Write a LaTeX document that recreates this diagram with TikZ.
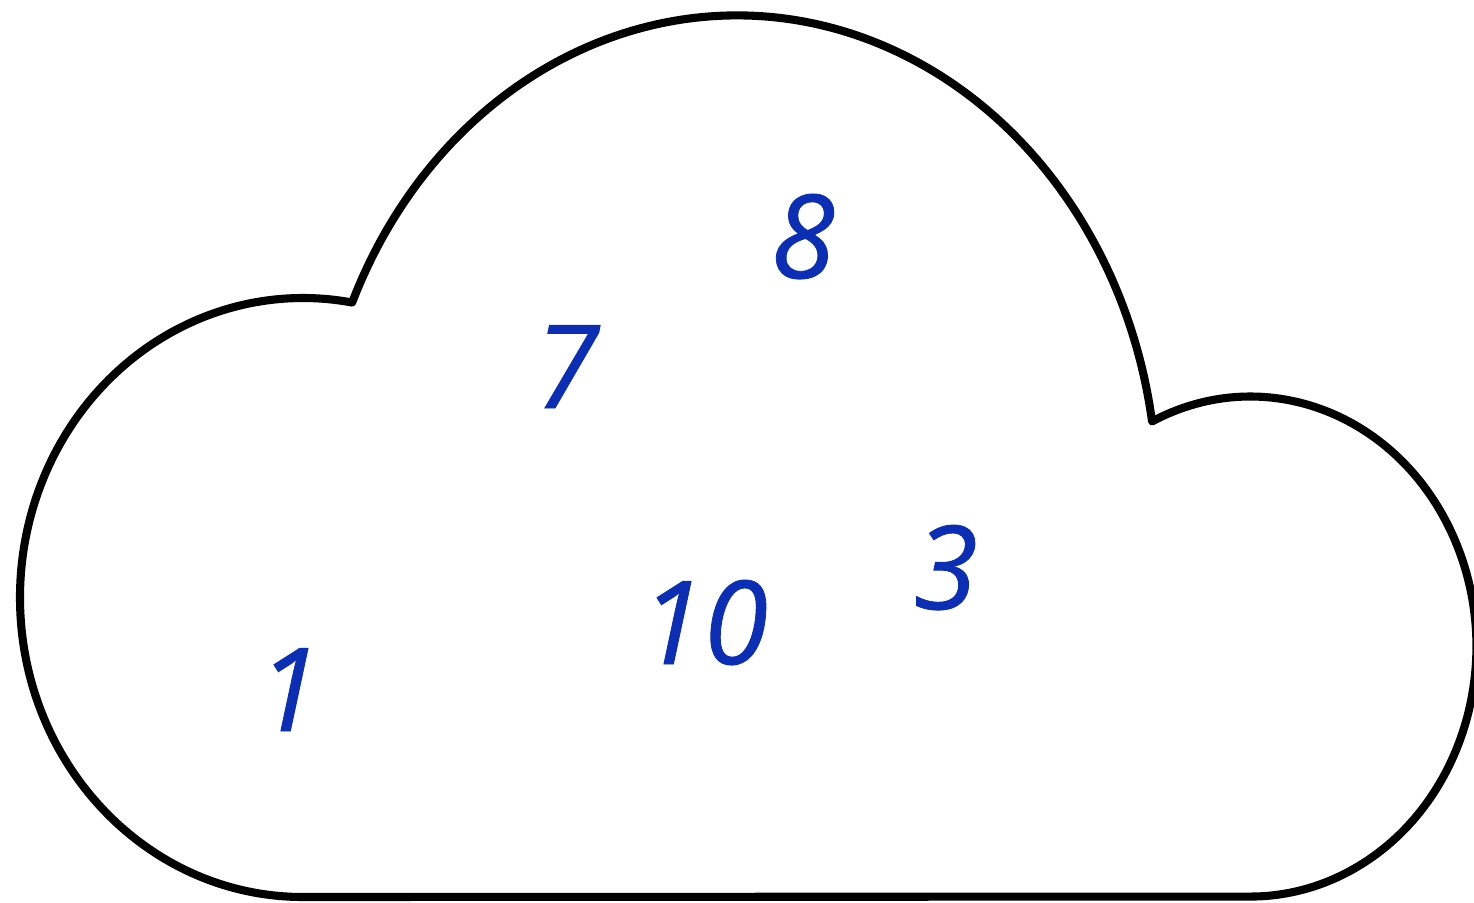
\documentclass[tikz,border=0pt]{standalone}
\usepackage{fontspec}
\setmainfont{Open Sans}[ItalicFeatures={FakeBold=0.7}]
\usepackage{tikz}
\definecolor{numblue}{RGB}{11,46,181}

\begin{document}
\begin{tikzpicture}[num/.style={anchor=base, text=numblue, font=\fontsize{33}{40}\selectfont\itshape, inner sep=0pt}]
            \useasboundingbox (0,0) rectangle (14.74,9.02);
            \coordinate (B) at (3.03,0.05);
            \draw[line width=2.3pt, line join=round]
                (B) arc[start angle=270, end angle=80, x radius=2.83, y radius=2.995]
                arc[start angle=156.3, end angle=8.87, x radius=4.202, y radius=4.80]
                arc[start angle=115.8, end angle=-90, x radius=2.26, y radius=2.50]
                -- (B) -- cycle;
            \node[num] (n8) at (8.03,6.24) {8};
            \node[num] (n7) at (5.67,4.94) {7};
            \node[num] (n3) at (9.46,2.93) {3};
            \node[num] (n10) at (7.04,2.38) {10};
            \node[num] (n1) at (2.89,1.71) {1};
        \end{tikzpicture}
\end{document}
